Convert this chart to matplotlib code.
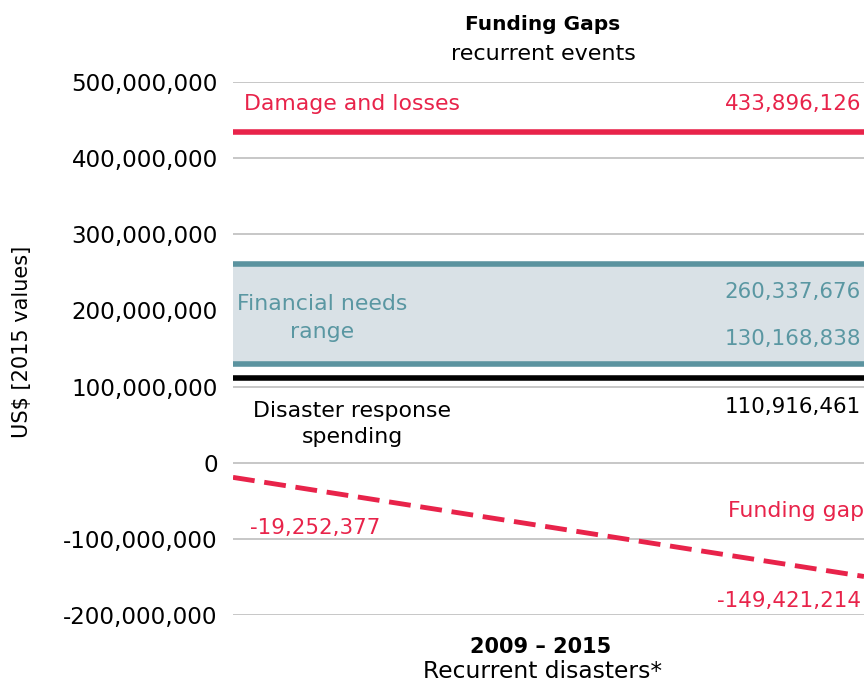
import matplotlib
matplotlib.use("Agg")
import matplotlib.pyplot as plt

# ---- data ----
yticks = [-200_000_000, -100_000_000, 0, 100_000_000, 200_000_000, 300_000_000, 400_000_000, 500_000_000]
damage_losses = 433_896_126
needs_high = 260_337_676
needs_low = 130_168_838
response_spending = 110_916_461
gap_x = [0.0, 1.0]
funding_gap = [-19_252_377, -149_421_214]

RED = "#e8234a"
TEAL = "#5b939f"
TEAL_TXT = "#5a97a2"
FILL = "#d9e1e6"

plt.rcParams['font.family'] = ['DejaVu Sans']

fig = plt.figure(figsize=(8.64, 6.81), dpi=100)
ax = fig.add_axes([233/864, 1 - 615/681, 1 - 233/864, (615 - 82)/681])
ax.set_xlim(0, 1)
ax.set_ylim(-200_000_000, 500_000_000)

for s in ax.spines.values():
    s.set_visible(False)
ax.set_xticks([])
ax.set_yticks(yticks)
ax.set_yticklabels([f"{v:,}" for v in yticks], fontsize=16.6)
ax.tick_params(axis='y', length=0, pad=11)
ax.yaxis.grid(True, color="#bdbdbd", linewidth=1.2)
ax.set_axisbelow(True)

# Financial needs band
ax.fill_between([0, 1], needs_low, needs_high, color=FILL, zorder=1)
ax.plot([0, 1], [needs_high, needs_high], color=TEAL, lw=4, solid_capstyle='round', zorder=3)
ax.plot([0, 1], [needs_low, needs_low], color=TEAL, lw=4, solid_capstyle='round', zorder=3)

# Damage and losses
ax.plot([0, 1], [damage_losses, damage_losses], color=RED, lw=4, solid_capstyle='round', zorder=3)

# Disaster response spending
ax.plot([0, 1], [response_spending, response_spending], color="black", lw=4, zorder=3)

# Funding gap
ax.plot(gap_x, funding_gap, color=RED, lw=3.5, linestyle=(0, (4.5, 2)), zorder=3)

fs = 15.8
fsn = 15.4
# labels (figure coordinates in pixels)
def ftxt(x, y, s, **kw):
    fig.text(x / 864, 1 - y / 681, s, **kw)

ftxt(244, 104, "Damage and losses", color=RED, fontsize=fs, ha='left', va='center')
ftxt(861, 104, f"{damage_losses:,}", color=RED, fontsize=fsn, ha='right', va='center')

ftxt(322, 318, "Financial needs\nrange", color=TEAL_TXT, fontsize=fs, ha='center', va='center', linespacing=1.45)
ftxt(861, 292, f"{needs_high:,}", color=TEAL_TXT, fontsize=fsn, ha='right', va='center')
ftxt(861, 339, f"{needs_low:,}", color=TEAL_TXT, fontsize=fsn, ha='right', va='center')

ftxt(352, 424, "Disaster response\nspending", color="black", fontsize=fs, ha='center', va='center', linespacing=1.35)
ftxt(861, 407, f"{response_spending:,}", color="black", fontsize=fsn, ha='right', va='center')

ftxt(250, 528, f"{funding_gap[0]:,}", color=RED, fontsize=fsn, ha='left', va='center')
ftxt(864, 511, "Funding gap", color=RED, fontsize=fs, ha='right', va='center')
ftxt(861, 601, f"{funding_gap[1]:,}", color=RED, fontsize=fsn, ha='right', va='center')

# title
ftxt(543, 25, "Funding Gaps", fontsize=14.5, fontweight='bold', ha='center', va='center')
ftxt(543, 54, "recurrent events", fontsize=16, ha='center', va='center')

# x label
ftxt(541, 647, "2009 – 2015", fontsize=15, fontweight='bold', ha='center', va='center')
ftxt(543, 671, "Recurrent disasters*", fontsize=16.8, ha='center', va='center')

# y label
ftxt(22, 342, "US$ [2015 values]", fontsize=15, rotation=90, ha='center', va='center')

fig.savefig("out.png", dpi=100)
